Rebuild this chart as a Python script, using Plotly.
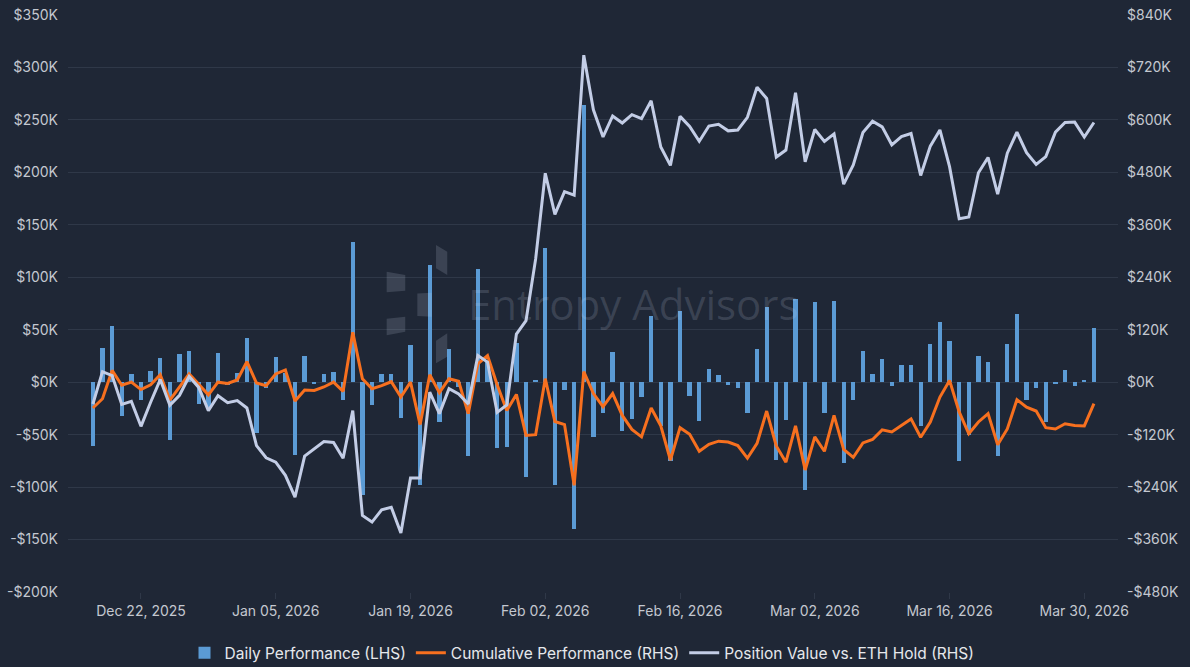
import plotly.graph_objects as go
import pandas as pd

# ---------------- data (values in $K) ----------------
dates = pd.date_range("2025-12-17", "2026-03-31", freq="D")

daily_k = [
    -61, 33, 54, -32, 8, -17, 11, 23, -55, 27,
    30, -21, -24, 28, -3, 9, 42, -48, -6, 24,
    9, -69, 25, -1, 8, 10, -17, 134, -108, -22,
    8, 8, -34, 35, -98, 112, -38, 32, -5, -70,
    108, 20, -63, -62, 37, -90, 2, 128, -98, -7,
    -140, 264, -52, -29, 29, -47, -35, -14, 63, -42,
    -75, 68, -13, -37, 13, 7, -3, -6, -29, 32,
    72, -74, -36, 79, -103, 76, -29, 77, -77, -17,
    30, 8, 22, -4, 16, 16, -42, 36, 57, 39,
    -75, -50, 25, 19, -70, 36, 65, -17, -6, -38,
    -2, 12, -4, 2, 52,
]

cumulative_k = [
    -59, -38, 27, -7, 0, -17, -6, 17, -41, -11,
    19, -5, -29, 0, -3, 5, 47, -2, -8, 19,
    28, -43, -18, -19, -11, 0, -21, 114, 8, -15,
    -8, 1, -34, 0, -97, 17, -24, 8, 2, -72,
    42, 61, -6, -65, -28, -122, -120, 8, -90, -97,
    -236, 24, -26, -56, -26, -76, -108, -125, -59, -100,
    -178, -104, -119, -158, -142, -135, -137, -145, -174, -140,
    -66, -146, -183, -100, -201, -125, -158, -76, -154, -172,
    -139, -131, -109, -114, -99, -84, -126, -91, -34, 4,
    -68, -118, -91, -72, -143, -107, -40, -57, -66, -104,
    -107, -95, -99, -100, -49,
]

position_k = [
    -50, 24, 15, -51, -44, -101, -46, 6, -53, -30,
    13, -12, -65, -31, -47, -42, -59, -145, -173, -183,
    -213, -263, -169, -152, -136, -138, -174, -65, -305, -320,
    -292, -286, -345, -219, -219, -23, -72, -15, -27, -50,
    61, 46, -69, -52, 110, 141, 282, 478, 384, 436,
    428, 748, 623, 561, 609, 593, 612, 603, 644, 538,
    496, 608, 585, 551, 586, 590, 575, 577, 606, 675,
    649, 515, 531, 662, 504, 578, 551, 568, 453, 497,
    571, 597, 584, 543, 562, 569, 473, 540, 577, 493,
    374, 378, 479, 514, 430, 524, 572, 525, 498, 516,
    572, 594, 595, 561, 594,
]

left_ticks = [-200, -150, -100, -50, 0, 50, 100, 150, 200, 250, 300, 350]
right_ticks = [-480, -360, -240, -120, 0, 120, 240, 360, 480, 600, 720, 840]
x_ticks = ["2025-12-22", "2026-01-05", "2026-01-19", "2026-02-02",
           "2026-02-16", "2026-03-02", "2026-03-16", "2026-03-30"]

series_names = ["Daily Performance (LHS)", "Cumulative Performance (RHS)",
                "Position Value vs. ETH Hold (RHS)"]


def money(v):
    return ("-" if v < 0 else "") + f"${abs(v)}K"


# ---------------- style ----------------
BG = "#1f2736"
GRID = "#2f3848"
TICK = "#c4c8d0"
BAR = "#5b9bd5"
ORANGE = "#f7701f"
LAV = "#c3cde6"
FONT = "Inter"

W, H = 1190, 667
L, R, T, B = 68, 1118, 15, 592  # plot area in page px

fig = go.Figure()
fig.add_trace(go.Bar(
    x=dates, y=daily_k, name=series_names[0], marker_color=BAR,
    marker_line_width=0, width=0.45 * 86400000, yaxis="y",
))
fig.add_trace(go.Scatter(
    x=dates, y=cumulative_k, name=series_names[1], mode="lines",
    line=dict(color=ORANGE, width=3), yaxis="y2",
))
fig.add_trace(go.Scatter(
    x=dates, y=position_k, name=series_names[2], mode="lines",
    line=dict(color=LAV, width=3), yaxis="y2",
))


def px(x):
    return (x - L) / (R - L)


def py(y):
    return (B - y) / (B - T)


def poly(pts):
    s = "M " + " L ".join(f"{px(a):.4f},{py(b):.4f}" for a, b in pts) + " Z"
    return dict(type="path", path=s, xref="paper", yref="paper",
                fillcolor="rgba(205,215,235,0.16)", line=dict(width=0),
                layer="above")


logo = [
    [(386.7, 271.7), (405.3, 275), (405.3, 290.7), (386.7, 292.3)],
    [(417.3, 293.5), (431.7, 292.7), (431.7, 316.7), (417.3, 316)],
    [(386.7, 318.7), (405.3, 316.7), (405.3, 331.7), (386.7, 335.3)],
    [(436, 245), (447.3, 251.7), (447.3, 275), (436, 268.3)],
    [(436, 340.7), (447.3, 333.3), (447.3, 356.7), (436, 363.3)],
]

fig.update_layout(
    width=W, height=H,
    paper_bgcolor=BG, plot_bgcolor=BG,
    margin=dict(l=L, r=W - R, t=T, b=H - B, autoexpand=False),
    font=dict(family=FONT, color=TICK, size=14),
    bargap=0,
    showlegend=True,
    legend=dict(orientation="h", x=px(582), xanchor="center", y=-0.106,
                yanchor="middle", font=dict(size=15.5, color="#e6e8ec"),
                bgcolor="rgba(0,0,0,0)"),
    xaxis=dict(
        type="date", automargin=False,
        range=["2025-12-14 10:00", "2026-04-02 12:00"],
        tickvals=x_ticks, tickformat="%b %d, %Y",
        showgrid=False, zeroline=False, showline=False,
        ticks="outside", ticklen=6, tickcolor=GRID,
        tickfont=dict(size=14, color=TICK),
    ),
    yaxis=dict(
        range=[-200, 350], tickvals=left_ticks, automargin=False,
        ticktext=[money(v) for v in left_ticks], ticklabelstandoff=9,
        ticklabeloverflow="allow",
        showgrid=True, gridcolor=GRID, gridwidth=1, zeroline=False,
        showline=False, ticks="", tickfont=dict(size=14, color=TICK),
    ),
    yaxis2=dict(
        range=[-480, 840], tickvals=right_ticks, automargin=False,
        ticktext=[money(v) for v in right_ticks], ticklabelstandoff=8,
        ticklabeloverflow="allow",
        overlaying="y", side="right", showgrid=False, zeroline=False,
        showline=False, ticks="", tickfont=dict(size=14, color=TICK),
    ),
    shapes=[poly(p) for p in logo],
    annotations=[dict(
        text="Entropy Advisors", x=px(633), y=py(303), xref="paper",
        yref="paper", showarrow=False,
        font=dict(family="Open Sans", size=42, color="rgba(205,215,235,0.16)"),
    )],
)

# remove the default 8px page margin so the figure fills the window exactly
fig.write_html(
    "out.html",
    config={"displayModeBar": False},
    post_script="document.body.style.margin='0px';"
                "document.body.style.background='" + BG + "';",
)
